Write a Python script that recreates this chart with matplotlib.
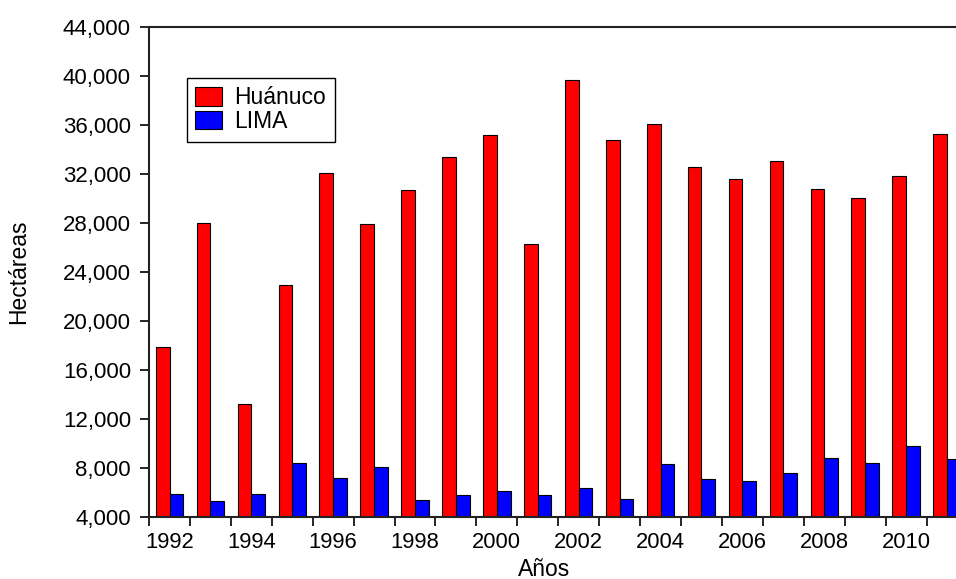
import numpy as np
import matplotlib
matplotlib.use("Agg")
import matplotlib.pyplot as plt
from matplotlib.ticker import FuncFormatter

plt.rcParams['font.family'] = ['Liberation Sans', 'DejaVu Sans']

# data (hectareas)
years = list(range(1992, 2012))
huanuco = [17900, 28000, 13200, 22900, 32100, 27950, 30700, 33400, 35150, 26300,
           39700, 34800, 36100, 32600, 31600, 33100, 30800, 30000, 31800, 35300]
lima = [5900, 5300, 5900, 8400, 7200, 8100, 5400, 5800, 6100, 5800,
        6400, 5500, 8300, 7100, 6900, 7600, 8800, 8400, 9800, 8700]
yticks = list(range(4000, 44001, 4000))

fig = plt.figure(figsize=(9.56, 5.79), dpi=100)
ax = fig.add_axes([0.1559, 0.1071, 0.8441, 0.8463])

x = np.array(years)
w = 0.335
ax.bar(x - w/2, huanuco, w, bottom=0, color='#ff0000', edgecolor='black',
       linewidth=0.8, label='Huánuco')
ax.bar(x + w/2, lima, w, bottom=0, color='#0000ff', edgecolor='black',
       linewidth=0.8, label='LIMA')

ax.set_ylim(4000, 44000)
ax.set_xlim(1991.5, 2011.22)
ax.set_yticks(yticks)
ax.yaxis.set_major_formatter(FuncFormatter(lambda v, p: f'{int(v):,}'))

# labels at year centres, tick marks at slot boundaries
ax.set_xticks(years[::2])
ax.set_xticks(np.arange(1991.5, 2011.5, 1.0), minor=True)
ax.tick_params(axis='x', which='major', length=0, pad=10.5, labelsize=15.8)
ax.tick_params(axis='x', which='minor', length=6.5, width=1.2, direction='out')
ax.tick_params(axis='y', length=6.5, width=1.2, direction='out', pad=6.5,
               labelsize=16)

for s in ['left', 'top', 'bottom']:
    ax.spines[s].set_linewidth(1.5)
    ax.spines[s].set_color('#222222')
ax.spines['right'].set_visible(False)

ax.set_xlabel('Años', fontsize=16.5)
ax.xaxis.set_label_coords(0.49, -0.083)
ax.set_ylabel('Hectáreas', fontsize=16.5)
ax.yaxis.set_label_coords(-0.147, 0.5)

leg = ax.legend(loc='upper left', bbox_to_anchor=(0.0467, 0.8965), borderaxespad=0,
                fontsize=16.5, fancybox=False, edgecolor='black', framealpha=1,
                handlelength=1.15, handleheight=0.85, handletextpad=0.55,
                labelspacing=0.02, borderpad=0.38)
leg.get_frame().set_linewidth(1.0)

fig.savefig('out.png', dpi=100)
